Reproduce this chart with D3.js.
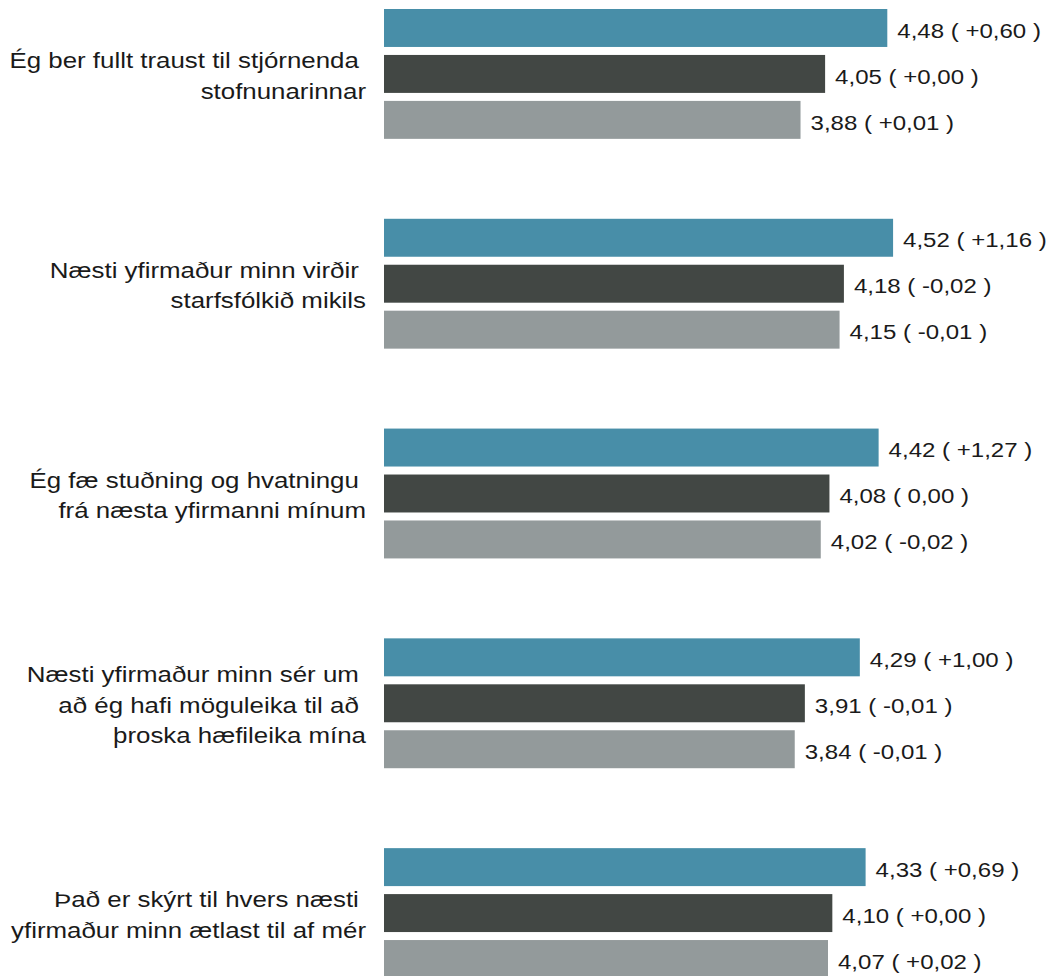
<!DOCTYPE html>
<html>
<head>
<meta charset="utf-8">
<script src="https://cdn.jsdelivr.net/npm/d3@7"></script>
<style>
  html, body { margin: 0; padding: 0; background: #fff; }
  svg { display: block; }
  text { font-family: "Liberation Sans", Arial, sans-serif; fill: #1a1a1a; }
</style>
</head>
<body>
<script>
const categories = [
  ["Ég ber fullt traust til stjórnenda ", "stofnunarinnar"],
  ["Næsti yfirmaður minn virðir ", "starfsfólkið mikils"],
  ["Ég fæ stuðning og hvatningu ", "frá næsta yfirmanni mínum"],
  ["Næsti yfirmaður minn sér um ", "að ég hafi möguleika til að ", "þroska hæfileika mína"],
  ["Það er skýrt til hvers næsti ", "yfirmaður minn ætlast til af mér"]
];
const seriesNames = ["s1", "s2", "s3"];
const values1 = [4.48, 4.52, 4.42, 4.29, 4.33];
const values2 = [4.05, 4.18, 4.08, 3.91, 4.10];
const values3 = [3.88, 4.15, 4.02, 3.84, 4.07];
const changes1 = ["+0,60", "+1,16", "+1,27", "+1,00", "+0,69"];
const changes2 = ["+0,00", "-0,02", "0,00", "-0,01", "+0,00"];
const changes3 = ["+0,01", "-0,01", "-0,02", "-0,01", "+0,02"];
const colors = ["#488ea8", "#424744", "#939a9b"];

const W = 1048, H = 976;
const SX = 1.15; // horizontal stretch of the reference text
const svg = d3.select("body").append("svg").attr("width", W).attr("height", H);

const catIdx = categories.map((d, i) => i);
const y0 = d3.scaleBand().domain(catIdx).range([9, 978]).paddingInner(0.381).paddingOuter(0);
const y1 = d3.scaleBand().domain(seriesNames).range([0, y0.bandwidth()]).paddingInner(0.174).paddingOuter(0);
const x = d3.scaleLinear().domain([1, 5]).range([384, 962.5]);

const allValues = [values1, values2, values3];
const allChanges = [changes1, changes2, changes3];
const fmt = v => d3.format(".2f")(v).replace(".", ",");

const rows = [];
catIdx.forEach(i => seriesNames.forEach((s, j) => rows.push({ cat: i, s, j, v: allValues[j][i], c: allChanges[j][i] })));

const g = svg.append("g");
g.selectAll("rect.bar").data(rows).join("rect")
  .attr("class", "bar")
  .attr("x", x(1))
  .attr("y", d => y0(d.cat) + y1(d.s))
  .attr("width", d => x(d.v) - x(1))
  .attr("height", y1.bandwidth())
  .attr("fill", d => colors[d.j]);

g.selectAll("text.val").data(rows).join("text")
  .attr("class", "val")
  .attr("transform", d => `translate(${x(d.v) + 10},${y0(d.cat) + y1(d.s) + y1.bandwidth() / 2 + 9.7}) scale(${SX},1)`)
  .attr("font-size", 20.9)
  .style("white-space", "pre")
  .text(d => `${fmt(d.v)} ( ${d.c} )`);

const lineH = 30.5;
catIdx.forEach(i => {
  const lines = categories[i];
  const n = lines.length;
  const cy = y0(i) + y0.bandwidth() / 2;
  g.append("g").selectAll("text").data(lines).join("text")
    .attr("class", "cat")
    .attr("text-anchor", "end")
    .attr("font-size", 22.5)
    .style("white-space", "pre")
    .attr("transform", (d, k) => `translate(366,${cy + (k - (n - 1) / 2) * lineH + 9.5}) scale(${SX},1)`)
    .text(d => d);
});
</script>
</body>
</html>
